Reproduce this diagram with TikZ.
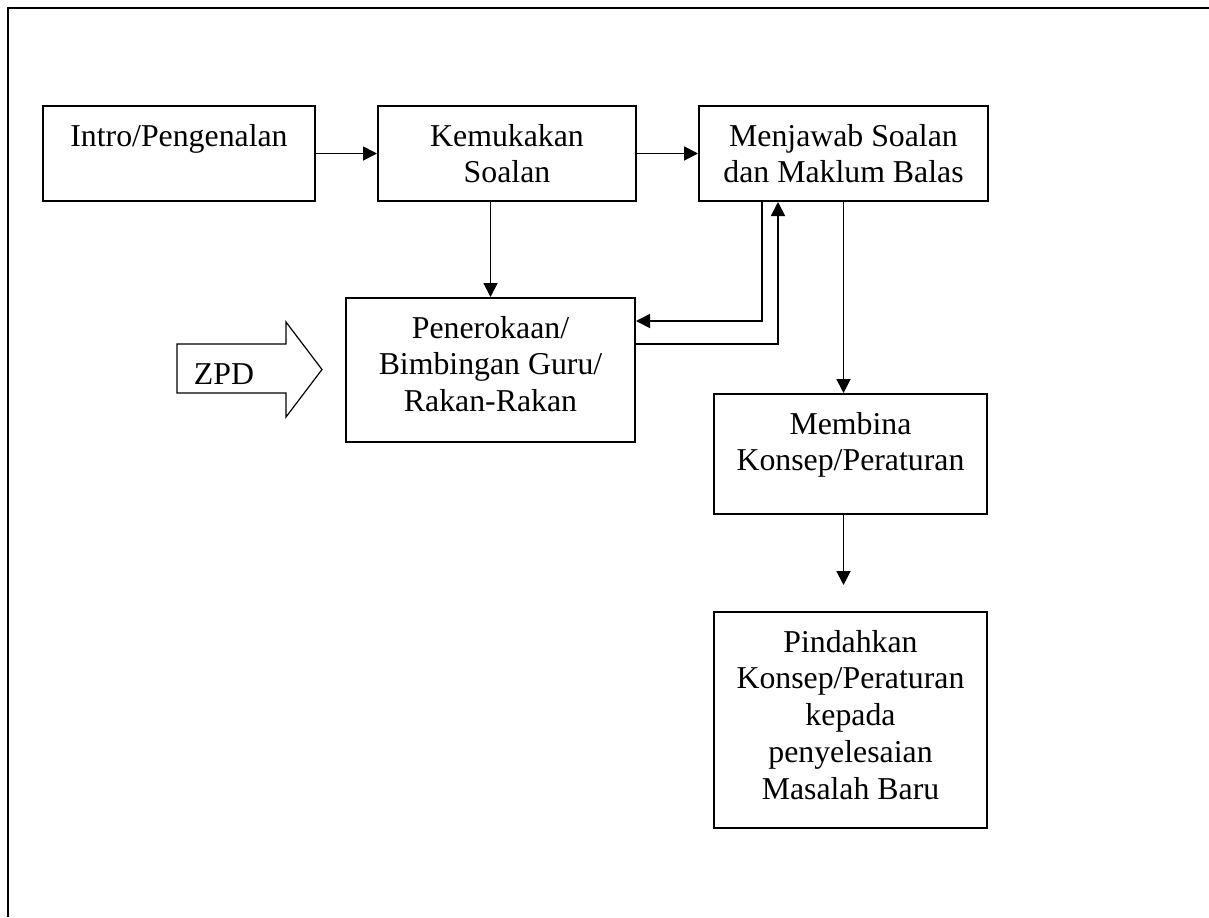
\documentclass[tikz,border=0pt]{standalone}
\usepackage{fontspec}
\setmainfont{Liberation Serif}
\usepackage{tikz}
\usetikzlibrary{positioning,arrows.meta}

\begin{document}
\begin{tikzpicture}[
    x=0.5pt,y=-0.5pt,
    box/.style={
      draw,line width=1pt,align=center,
      font=\fontsize{15.9}{18.4}\selectfont,
      inner xsep=4pt,inner ysep=6pt},
    arr/.style={-{Triangle[length=7pt,width=7pt]},line width=0.9pt},
    >=Triangle
]
\useasboundingbox (0,0) rectangle (1209,917);

% frame
\draw[line width=1pt] (8,917) -- (8,7.5) -- (1209,7.5);

\node[box,anchor=north west,minimum width=136pt,
      text height=14pt,text depth=21.5pt] at (42,105)
      (intro) {Intro/Pengenalan};
\node[box,right=30.5pt of intro,minimum width=129pt,
      text height=32.4pt,text depth=3.1pt]
      (kem) {Kemukakan\\Soalan};
\node[box,right=30.5pt of kem,minimum width=144.5pt,
      text height=32.4pt,text depth=3.1pt]
      (men) {Menjawab Soalan\\dan Maklum Balas};
\node[box,anchor=north west,minimum width=144.5pt,
      text height=50.8pt,text depth=9.2pt] at (345,297)
      (pen) {Penerokaan/\\Bimbingan Guru/\\Rakan-Rakan};
\node[box,anchor=north west,minimum width=136.5pt,
      text height=32.4pt,text depth=15.6pt] at (713,393)
      (mem) {Membina\\Konsep/Peraturan};
\node[box,below=48pt of mem,minimum width=136.5pt,
      text height=87.6pt,text depth=8.4pt]
      (pin) {Pindahkan\\Konsep/Peraturan\\kepada\\penyelesaian\\Masalah Baru};

% ZPD arrow
\draw[line width=0.6pt] (177,344) -- (286,344) -- (286,322) -- (322,369.5)
      -- (286,417) -- (286,393) -- (177,393) -- cycle;
\node[font=\fontsize{15.9}{18.4}\selectfont] at (224,374) (zpd) {ZPD};

\draw[arr] (intro) -- (kem);
\draw[arr] (kem) -- (men);
\draw[arr] (pen.north |- kem.south) -- (pen.north);
\draw[arr] ([xshift=32pt]men.south west) |- ([yshift=-12pt]pen.north east);
\draw[arr] ([yshift=-23.5pt]pen.north east) -| ([xshift=40pt]men.south west);
\draw[arr] (men.south) -- (men.south |- mem.north);

\coordinate (gap) at ([yshift=13pt]pin.north);
\draw[arr] (men.south |- mem.south) -- (men.south |- gap);
\end{tikzpicture}
\end{document}
